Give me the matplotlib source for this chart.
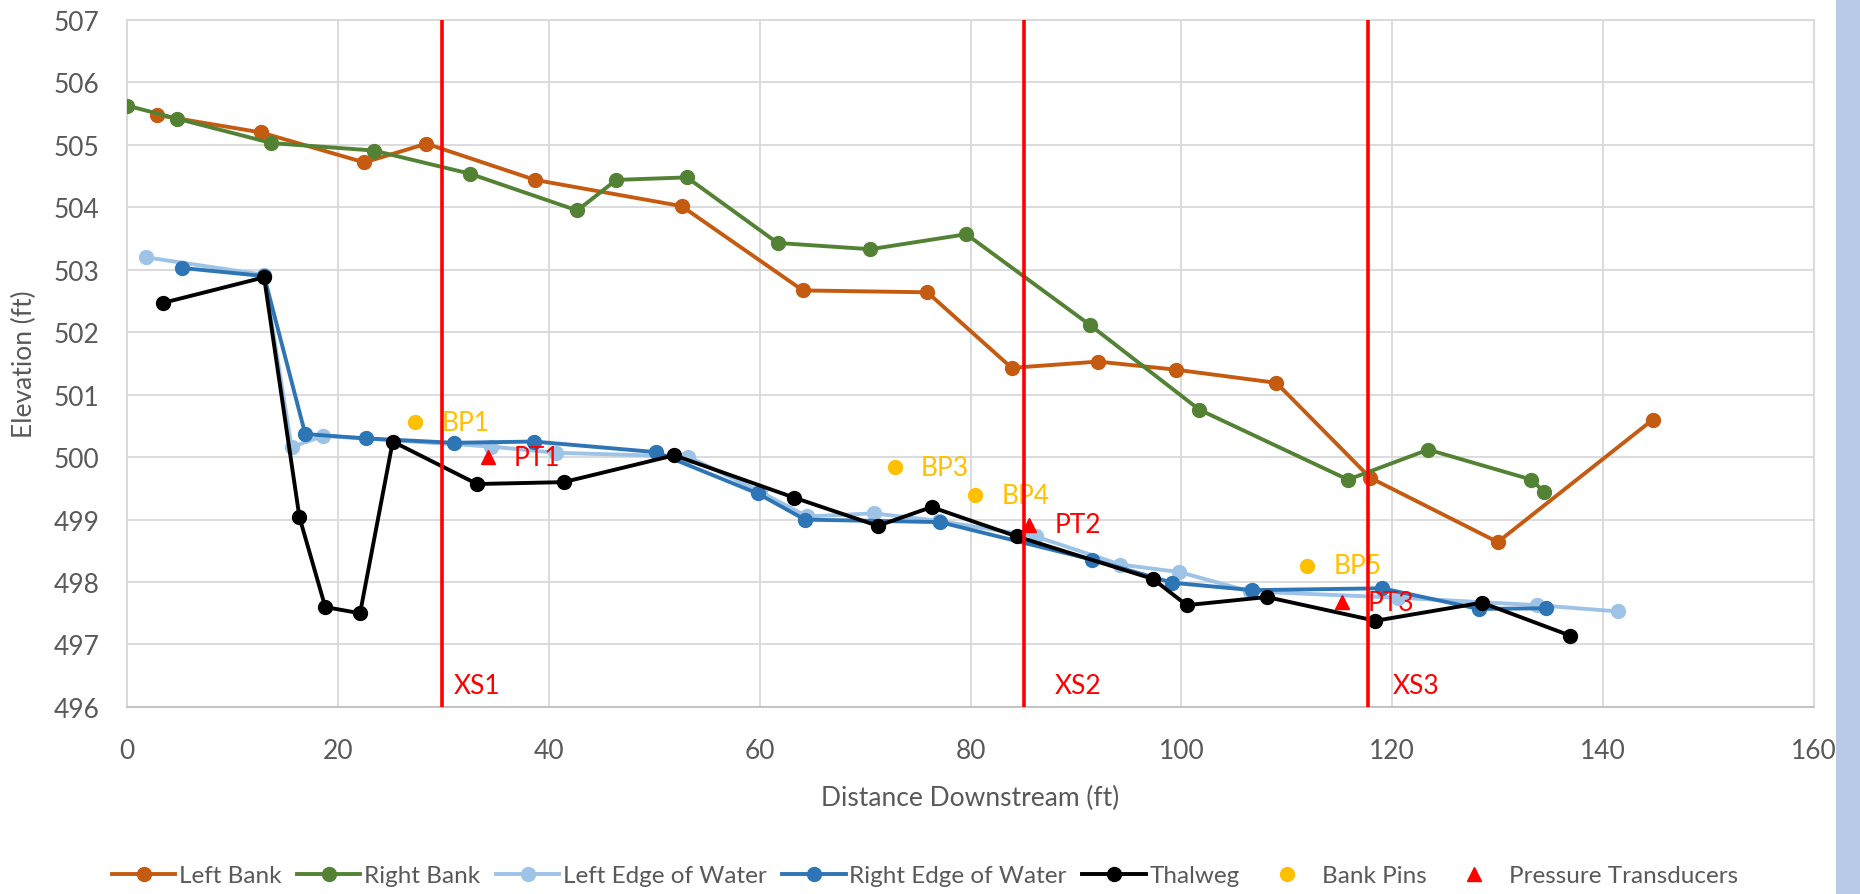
"""Longitudinal profile of the reach: banks, water edges, thalweg, pins and transducers."""
import matplotlib
matplotlib.use("Agg")
import matplotlib.pyplot as plt
from matplotlib.patches import Rectangle

# ---- data ----
left_bank_x = [2.8, 12.7, 22.5, 28.4, 38.7, 52.6, 64.1, 75.9, 83.9, 92.1, 99.5, 109.0, 117.9, 130.0, 144.7]
left_bank_y = [505.48, 505.20, 504.72, 505.02, 504.44, 504.02, 502.67, 502.64, 501.43, 501.53, 501.40,
               501.19, 499.67, 498.64, 500.60]

right_bank_x = [0.0, 4.75, 13.7, 23.4, 32.5, 42.7, 46.4, 53.1, 61.7, 70.5, 79.6, 91.3, 101.7, 115.8,
                123.4, 133.2, 134.4]
right_bank_y = [505.63, 505.42, 505.03, 504.91, 504.54, 503.95, 504.44, 504.48, 503.43, 503.33, 503.57,
                502.12, 500.76, 499.64, 500.12, 499.64, 499.44]

lew_x = [1.8, 13.0, 15.6, 18.6, 34.5, 40.7, 53.2, 60.0, 64.5, 70.8, 77.0, 86.2, 94.2, 99.8, 106.5,
         120.5, 133.7, 141.4]
lew_y = [503.20, 502.92, 500.16, 500.34, 500.17, 500.07, 500.01, 499.45, 499.05, 499.10, 498.98,
         498.73, 498.28, 498.16, 497.85, 497.75, 497.63, 497.53]

rew_x = [5.2, 13.0, 16.9, 22.7, 31.0, 38.6, 50.2, 59.8, 64.3, 77.1, 91.5, 99.1, 106.7, 119.0, 128.2, 134.6]
rew_y = [503.03, 502.90, 500.37, 500.30, 500.23, 500.25, 500.08, 499.42, 499.00, 498.96, 498.36,
         497.99, 497.87, 497.90, 497.57, 497.58]

thalweg_x = [3.4, 13.0, 16.35, 18.8, 22.1, 25.2, 33.2, 41.4, 51.9, 63.3, 71.2, 76.3, 84.4, 97.3,
             100.5, 108.1, 118.4, 128.5, 136.9]
thalweg_y = [502.47, 502.88, 499.04, 497.60, 497.50, 500.25, 499.57, 499.60, 500.03, 499.35, 498.90,
             499.20, 498.73, 498.05, 497.63, 497.76, 497.38, 497.67, 497.14]

pin_names = ["BP1", "BP3", "BP4", "BP5"]
pin_x = [27.3, 72.8, 80.4, 111.9]
pin_y = [500.56, 499.84, 499.39, 498.26]

pt_names = ["PT1", "PT2", "PT3"]
pt_x = [34.2, 85.5, 115.2]
pt_y = [500.00, 498.92, 497.68]

xs_names = ["XS1", "XS2", "XS3"]
xs_x = [29.9, 85.1, 117.7]
xs_label_x = [31.0, 88.0, 120.0]

FONT = "Lato"
GREY = "#595959"
FS = 19
plt.rcParams["font.family"] = [FONT, "DejaVu Sans"]

fig = plt.figure(figsize=(18.6, 8.95), dpi=100)
ax = fig.add_axes([0.0683, 0.209, 0.907, 0.7675])

lw, ms = 2.8, 10
ax.plot(left_bank_x, left_bank_y, "-o", color="#C55A11", lw=lw, ms=ms, label="Left Bank", zorder=3)
ax.plot(right_bank_x, right_bank_y, "-o", color="#548235", lw=lw, ms=ms, label="Right Bank", zorder=3)
ax.plot(lew_x, lew_y, "-o", color="#9DC3E6", lw=lw, ms=ms, label="Left Edge of Water", zorder=3)
ax.plot(rew_x, rew_y, "-o", color="#2E75B6", lw=lw, ms=ms, label="Right Edge of Water", zorder=3)
ax.plot(thalweg_x, thalweg_y, "-o", color="black", lw=lw, ms=ms, label="Thalweg", zorder=3)
ax.plot(pin_x, pin_y, "o", color="#FFC000", ms=ms, label="Bank Pins", zorder=3)
ax.plot(pt_x, pt_y, "^", color="#FF0000", ms=ms, label="Pressure Transducers", zorder=3)

for name, x, y in zip(pin_names, pin_x, pin_y):
    ax.annotate(name, (x, y), xytext=(19, 0), textcoords="offset points",
                ha="left", va="center", color="#FFC000", fontsize=FS, zorder=4)
for name, x, y in zip(pt_names, pt_x, pt_y):
    ax.annotate(name, (x, y), xytext=(19, 0), textcoords="offset points",
                ha="left", va="center", color="#FF0000", fontsize=FS, zorder=4)

for name, x, lx in zip(xs_names, xs_x, xs_label_x):
    ax.axvline(x, color="#FF0000", lw=2.6, zorder=5)
    ax.text(lx, 496.35, name, color="#FF0000", fontsize=FS, ha="left", va="center", zorder=5)

ax.set_xlim(0, 160)
ax.set_ylim(496, 507)
ax.set_xticks(range(0, 161, 20))
ax.set_yticks(range(496, 508))
ax.grid(color="#D9D9D9", lw=1.3, zorder=0)
ax.set_axisbelow(True)
for side, sp in ax.spines.items():
    sp.set_color("#D9D9D9")
    sp.set_linewidth(1.3)
ax.spines["bottom"].set_color("#BFBFBF")
ax.tick_params(length=0, labelsize=FS, labelcolor=GREY)
ax.tick_params(axis="x", pad=22)
ax.tick_params(axis="y", pad=20)

ax.set_xlabel("Distance Downstream (ft)", fontsize=FS, color=GREY, labelpad=16)
ax.set_ylabel("Elevation (ft)", fontsize=FS, color=GREY, labelpad=12)

fig.legend(*ax.get_legend_handles_labels(), loc="lower center", bbox_to_anchor=(0.4975, -0.016),
           ncol=7, frameon=False, fontsize=17.5, labelcolor=GREY, handlelength=2.6,
           handletextpad=0.15, columnspacing=0.65)

# light blue slide border on the right edge
fig.patches.append(Rectangle((0.987, 0), 0.013, 1, transform=fig.transFigure,
                             facecolor="#B8CAE8", edgecolor="none"))

fig.savefig("out.png", dpi=100)
